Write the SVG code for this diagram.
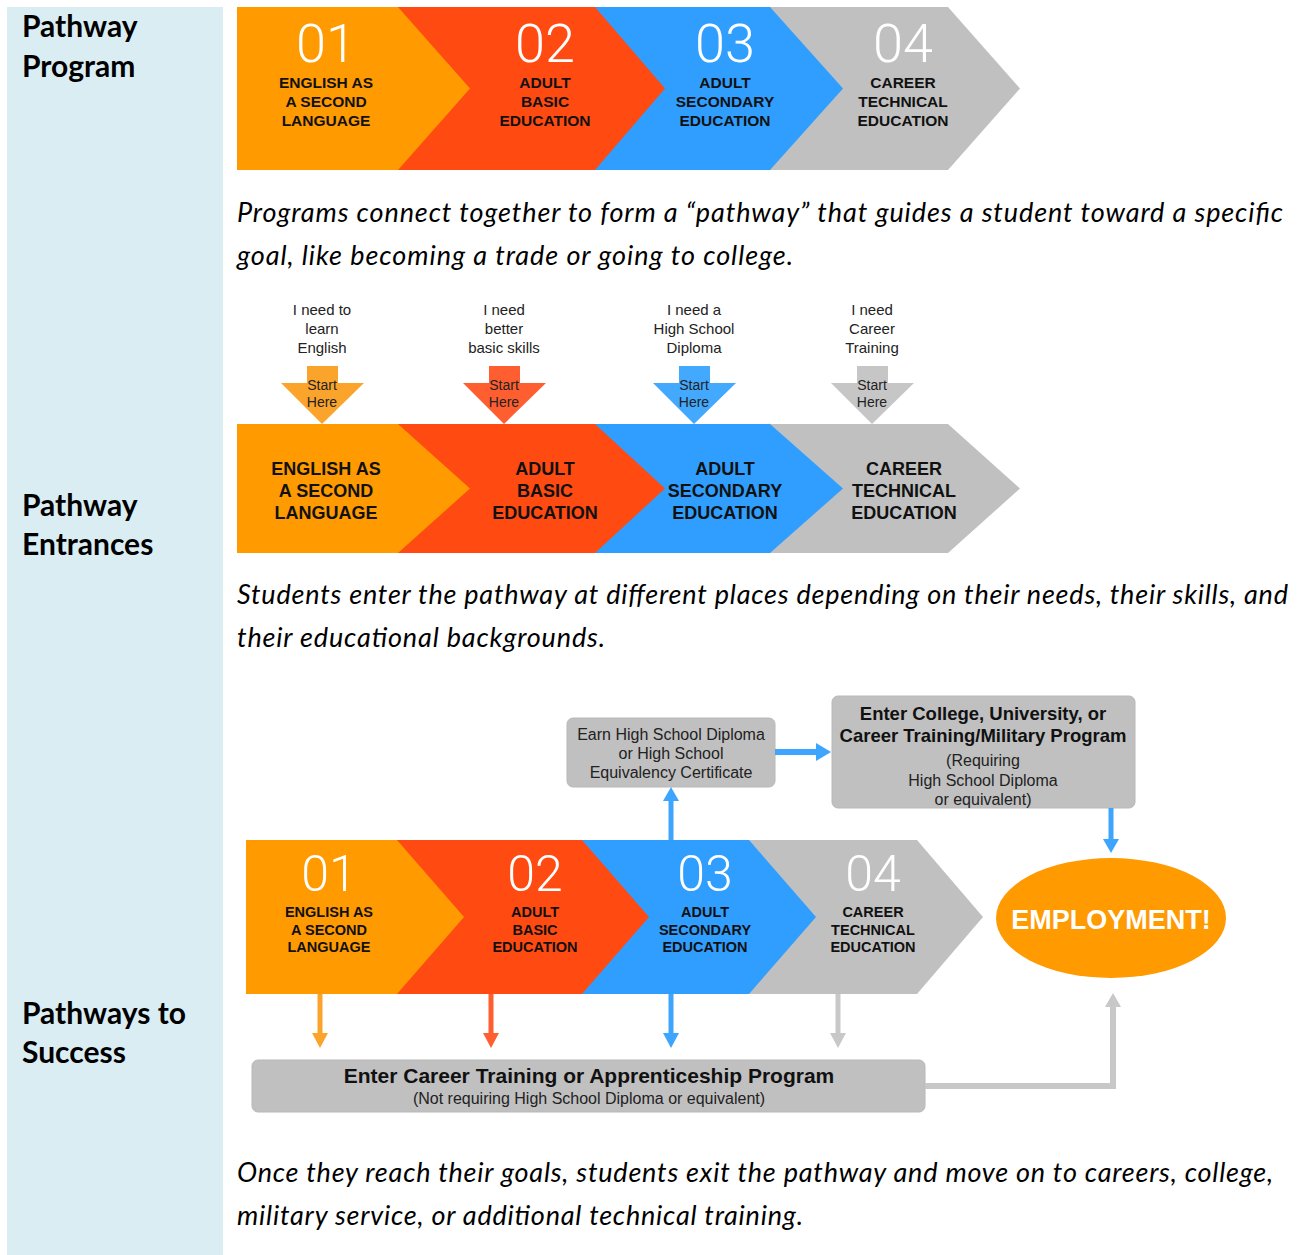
<svg xmlns="http://www.w3.org/2000/svg" width="1307" height="1255" viewBox="0 0 1307 1255">
<style>
.side{font-family:Lato,"Open Sans",sans-serif;font-weight:700;font-size:30px;fill:#000}
.cap{font-family:Lato,"Open Sans",sans-serif;font-style:italic;font-size:27px;fill:#000}
.num{font-family:Roboto,"Liberation Sans",sans-serif;font-weight:300;fill:#fff;text-anchor:middle}
.lb{font-family:"Liberation Sans",Arial,sans-serif;font-weight:700;fill:#111;text-anchor:middle}
.sm{font-family:"Liberation Sans",Arial,sans-serif;font-size:15px;fill:#222;text-anchor:middle}
.bx{font-family:"Liberation Sans",Arial,sans-serif;font-size:16px;fill:#222;text-anchor:middle}
.sh{font-family:"Liberation Sans",Arial,sans-serif;font-size:14px;fill:#222;text-anchor:middle}
.or{fill:#FF9A00}.rd{fill:#FF4A12}.bl{fill:#2F9EFF}.gy{fill:#C0C0C0}
.box{fill:#C0C0C0;stroke:#B8B8B8;stroke-width:1}
</style>
<rect x="7" y="7" width="216" height="1248" fill="#DAEDF3"/>
<text class="side" x="22" y="37">Pathway</text>
<text class="side" x="22" y="77">Program</text>
<text class="side" x="22" y="516">Pathway</text>
<text class="side" x="22" y="555">Entrances</text>
<text class="side" x="22" y="1024">Pathways to</text>
<text class="side" x="22" y="1063">Success</text>

<g id="program">
<polygon class="gy" points="770,7 948,7 1020,88.5 948,170 770,170"/>
<polygon class="bl" points="595,7 770,7 843,88.5 770,170 595,170"/>
<polygon class="rd" points="398,7 595,7 665,88.5 595,170 398,170"/>
<polygon class="or" points="237,7 398,7 470,88.5 398,170 237,170"/>
<g font-size="54"><text class="num" x="326" y="62">01</text><text class="num" x="545" y="62">02</text><text class="num" x="725" y="62">03</text><text class="num" x="903" y="62">04</text></g>
<g font-size="15.5">
<text class="lb" x="326" y="88">ENGLISH AS</text><text class="lb" x="326" y="107">A SECOND</text><text class="lb" x="326" y="126">LANGUAGE</text>
<text class="lb" x="545" y="88">ADULT</text><text class="lb" x="545" y="107">BASIC</text><text class="lb" x="545" y="126">EDUCATION</text>
<text class="lb" x="725" y="88">ADULT</text><text class="lb" x="725" y="107">SECONDARY</text><text class="lb" x="725" y="126">EDUCATION</text>
<text class="lb" x="903" y="88">CAREER</text><text class="lb" x="903" y="107">TECHNICAL</text><text class="lb" x="903" y="126">EDUCATION</text>
</g>
</g>
<text class="cap" x="237" y="222" textLength="1046">Programs connect together to form a “pathway” that guides a student toward a specific</text>
<text class="cap" x="237" y="265" textLength="556">goal, like becoming a trade or going to college.</text>

<g id="entrances">
<g id="need1"><text class="sm" x="322" y="315">I need to</text><text class="sm" x="322" y="334">learn</text><text class="sm" x="322" y="353">English</text></g>
<g id="need2"><text class="sm" x="504" y="315">I need</text><text class="sm" x="504" y="334">better</text><text class="sm" x="504" y="353">basic skills</text></g>
<g id="need3"><text class="sm" x="694" y="315">I need a</text><text class="sm" x="694" y="334">High School</text><text class="sm" x="694" y="353">Diploma</text></g>
<g id="need4"><text class="sm" x="872" y="315">I need</text><text class="sm" x="872" y="334">Career</text><text class="sm" x="872" y="353">Training</text></g>
<g id="start1"><polygon fill="#FBA42C" points="307,366 338,366 338,383 364,383 322,424 281,383 307,383"/><text class="sh" x="322" y="390">Start</text><text class="sh" x="322" y="407">Here</text></g>
<g id="start2"><polygon fill="#FF5F30" points="489,366 520,366 520,383 546,383 504,424 463,383 489,383"/><text class="sh" x="504" y="390">Start</text><text class="sh" x="504" y="407">Here</text></g>
<g id="start3"><polygon fill="#42A9FF" points="679,366 710,366 710,383 736,383 694,424 653,383 679,383"/><text class="sh" x="694" y="390">Start</text><text class="sh" x="694" y="407">Here</text></g>
<g id="start4"><polygon fill="#C6C6C6" points="857,366 888,366 888,383 914,383 872,424 831,383 857,383"/><text class="sh" x="872" y="390">Start</text><text class="sh" x="872" y="407">Here</text></g>
<polygon class="gy" points="770,424 948,424 1020,488.5 948,553 770,553"/>
<polygon class="bl" points="595,424 770,424 843,488.5 770,553 595,553"/>
<polygon class="rd" points="398,424 595,424 665,488.5 595,553 398,553"/>
<polygon class="or" points="237,424 398,424 470,488.5 398,553 237,553"/>
<g font-size="18">
<text class="lb" x="326" y="475">ENGLISH AS</text><text class="lb" x="326" y="497">A SECOND</text><text class="lb" x="326" y="519">LANGUAGE</text>
<text class="lb" x="545" y="475">ADULT</text><text class="lb" x="545" y="497">BASIC</text><text class="lb" x="545" y="519">EDUCATION</text>
<text class="lb" x="725" y="475">ADULT</text><text class="lb" x="725" y="497">SECONDARY</text><text class="lb" x="725" y="519">EDUCATION</text>
<text class="lb" x="904" y="475">CAREER</text><text class="lb" x="904" y="497">TECHNICAL</text><text class="lb" x="904" y="519">EDUCATION</text>
</g>
</g>
<text class="cap" x="237" y="604" textLength="1051">Students enter the pathway at different places depending on their needs, their skills, and</text>
<text class="cap" x="237" y="647" textLength="368">their educational backgrounds.</text>

<g id="success">
<g id="band3">
<polygon class="gy" points="749,840 917,840 983,917 917,994 749,994"/>
<polygon class="bl" points="582,840 749,840 816,917 749,994 582,994"/>
<polygon class="rd" points="397,840 582,840 649,917 582,994 397,994"/>
<polygon class="or" points="246,840 397,840 464,917 397,994 246,994"/>
<g font-size="50"><text class="num" x="329" y="891">01</text><text class="num" x="535" y="891">02</text><text class="num" x="705" y="891">03</text><text class="num" x="873" y="891">04</text></g>
<g font-size="14.5">
<text class="lb" x="329" y="917">ENGLISH AS</text><text class="lb" x="329" y="935">A SECOND</text><text class="lb" x="329" y="952">LANGUAGE</text>
<text class="lb" x="535" y="917">ADULT</text><text class="lb" x="535" y="935">BASIC</text><text class="lb" x="535" y="952">EDUCATION</text>
<text class="lb" x="705" y="917">ADULT</text><text class="lb" x="705" y="935">SECONDARY</text><text class="lb" x="705" y="952">EDUCATION</text>
<text class="lb" x="873" y="917">CAREER</text><text class="lb" x="873" y="935">TECHNICAL</text><text class="lb" x="873" y="952">EDUCATION</text>
</g>
</g>
<g id="diploma">
<rect class="box" x="567" y="718" width="208" height="69" rx="6"/>
<text class="bx" x="671" y="740">Earn High School Diploma</text><text class="bx" x="671" y="759">or High School</text><text class="bx" x="671" y="778">Equivalency Certificate</text>
</g>
<g id="college">
<rect class="box" x="832" y="696" width="303" height="112" rx="6"/>
<text class="lb" x="983" y="720" font-size="18.5">Enter College, University, or</text>
<text class="lb" x="983" y="742" font-size="18.5">Career Training/Military Program</text>
<text class="bx" x="983" y="766">(Requiring</text><text class="bx" x="983" y="786">High School Diploma</text><text class="bx" x="983" y="805">or equivalent)</text>
</g>
<g id="employment">
<ellipse cx="1111" cy="918" rx="115" ry="60" fill="#FF9A00"/>
<text x="1111" y="929" text-anchor="middle" font-family="Liberation Sans,Arial,sans-serif" font-weight="700" font-size="27" fill="#fff">EMPLOYMENT!</text>
</g>
<g id="apprentice">
<rect class="box" x="252" y="1060" width="673" height="52" rx="6"/>
<text class="lb" x="589" y="1083" font-size="21">Enter Career Training or Apprenticeship Program</text>
<text class="bx" x="589" y="1104">(Not requiring High School Diploma or equivalent)</text>
</g>
</g>

<g id="connectors" fill="none">
<path d="M671,840V800" stroke="#3EA5FF" stroke-width="5"/><polygon points="663,801 679,801 671,787" fill="#3EA5FF"/>
<path d="M775,752H817" stroke="#3EA5FF" stroke-width="6"/><polygon points="816,743 816,761 831,752" fill="#3EA5FF"/>
<path d="M1111,808V840" stroke="#3EA5FF" stroke-width="5"/><polygon points="1103,839 1119,839 1111,853" fill="#3EA5FF"/>
<path d="M320,994V1034" stroke="#FBA42C" stroke-width="5"/><polygon points="312,1033 328,1033 320,1048" fill="#FBA42C"/>
<path d="M491,994V1034" stroke="#FF5F30" stroke-width="5"/><polygon points="483,1033 499,1033 491,1048" fill="#FF5F30"/>
<path d="M671,994V1034" stroke="#3EA5FF" stroke-width="5"/><polygon points="663,1033 679,1033 671,1048" fill="#3EA5FF"/>
<path d="M838,994V1034" stroke="#C8C8C8" stroke-width="5"/><polygon points="830,1033 846,1033 838,1048" fill="#C8C8C8"/>
<path d="M925,1086H1113V1006" stroke="#C8C8C8" stroke-width="6"/><polygon points="1105,1007 1121,1007 1113,993" fill="#C8C8C8"/>
</g>
<text class="cap" x="237" y="1182" textLength="1036">Once they reach their goals, students exit the pathway and move on to careers, college,</text>
<text class="cap" x="237" y="1225" textLength="566">military service, or additional technical training.</text>
</svg>
